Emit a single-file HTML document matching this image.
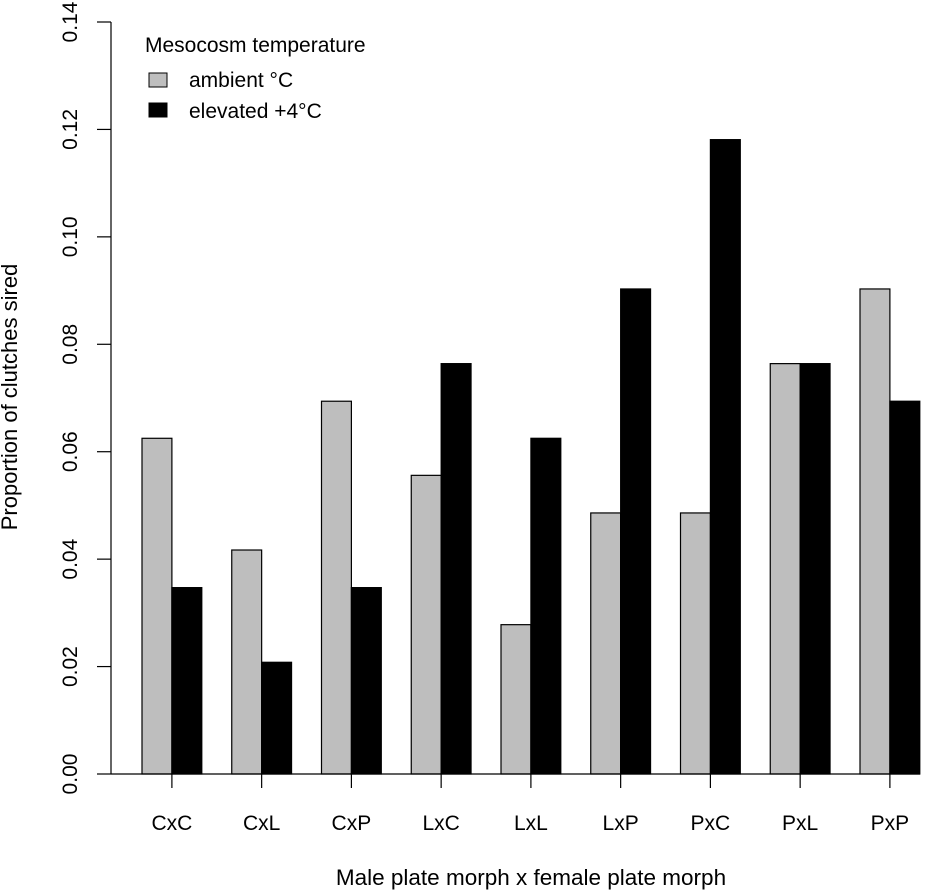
<!DOCTYPE html>
<html><head><meta charset="utf-8"><style>
body{margin:0;background:#fff;}
svg text{font-family:"Liberation Sans",Arial,sans-serif;fill:#000;}
</style></head><body>
<svg width="950" height="890" xmlns="http://www.w3.org/2000/svg">
<g id="bars"></g>
<g id="axes"></g>
<g>
<text x="145" y="52" font-size="21">Mesocosm temperature</text>
<rect x="149" y="73" width="18" height="14" fill="#bebebe" stroke="#000"/>
<text x="189" y="87" font-size="21">ambient °C</text>
<rect x="149" y="103" width="18" height="14" fill="#000" stroke="#000"/>
<text x="189" y="118" font-size="21">elevated +4°C</text>
</g>
<text x="531" y="885" font-size="22.5" text-anchor="middle">Male plate morph x female plate morph</text>
<text transform="translate(17,397) rotate(-90)" font-size="22" text-anchor="middle">Proportion of clutches sired</text>
</svg>
<script>
const categories=["CxC","CxL","CxP","LxC","LxL","LxP","PxC","PxL","PxP"];
const ambient=[0.0625,0.0417,0.0694,0.0556,0.0278,0.0486,0.0486,0.0764,0.0903];
const elevated=[0.0347,0.0208,0.0347,0.0764,0.0625,0.0903,0.1181,0.0764,0.0694];
const yTicks=["0.00","0.02","0.04","0.06","0.08","0.10","0.12","0.14"];
const NS="http://www.w3.org/2000/svg";
const y0=774,yTop=22,yMax=0.14;
const y=v=>y0-(v/yMax)*(y0-yTop);
const bw=29.9,gx0=142,gstep=89.75;
const x=i=>gx0+i*gstep;
const bars=document.getElementById('bars'),axes=document.getElementById('axes');
function mk(tag,attrs,parent){const e=document.createElementNS(NS,tag);for(const k in attrs)e.setAttribute(k,attrs[k]);parent.appendChild(e);return e;}
categories.forEach((c,i)=>{
 const a=mk('rect',{x:x(i),y:y(ambient[i]),width:bw,height:y0-y(ambient[i]),fill:'#bebebe',stroke:'#000','stroke-width':1.2},bars);
 
 
 const b=mk('rect',{x:x(i)+bw,y:y(elevated[i]),width:bw,height:y0-y(elevated[i]),fill:'#000',stroke:'#000','stroke-width':1.2},bars);
 
 
 const t=mk('line',{x1:x(i)+bw,x2:x(i)+bw,y1:y0,y2:y0+14,stroke:'#000','stroke-width':1.2},axes);
 
 
 const l=mk('text',{x:x(i)+bw,y:830,'font-size':21,'text-anchor':'middle'},axes);
 l.textContent=c;
 
 
});
const bl=mk('line',{x1:111,x2:920,y1:y0,y2:y0,stroke:'#000','stroke-width':1.2},axes);


const ya=mk('line',{x1:111,x2:111,y1:y(0),y2:y(0.14),stroke:'#000','stroke-width':1.2},axes);


yTicks.forEach(s=>{
 const v=parseFloat(s);
 const t=mk('line',{x1:97,x2:111,y1:y(v),y2:y(v),stroke:'#000','stroke-width':1.2},axes);
 
 
 const l=mk('text',{transform:`translate(77,${y(v)}) rotate(-90)`,'font-size':21,'text-anchor':'middle'},axes);
 l.textContent=s;
 
 
});
</script>
</body></html>
